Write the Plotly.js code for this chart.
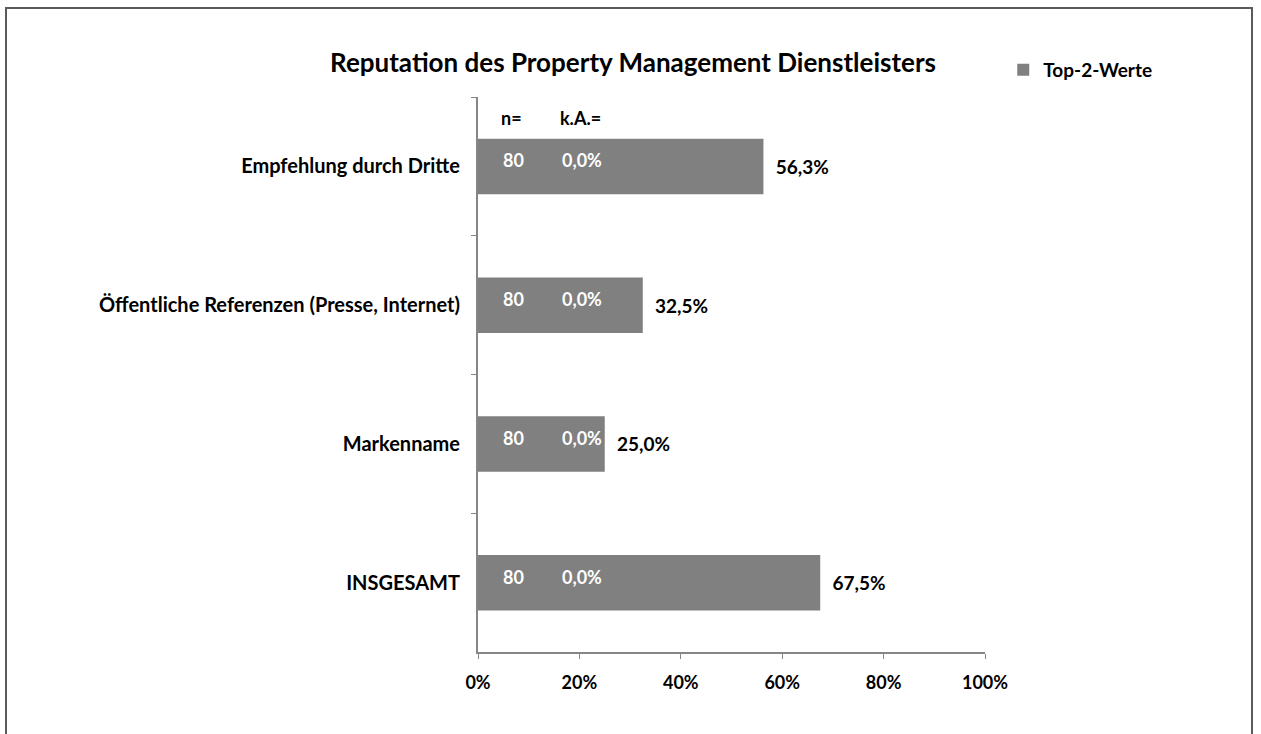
<!DOCTYPE html>
<html>
<head>
<meta charset="utf-8">
<script src="https://cdn.plot.ly/plotly-3.0.1.min.js"></script>
<style>
html,body{margin:0;padding:0;background:#fff;}
#chart{width:1261px;height:734px;}
</style>
</head>
<body>
<div id="chart"></div>
<script>
// ---- data ----
const categories = ["Empfehlung durch Dritte", "Öffentliche Referenzen (Presse, Internet)", "Markenname", "INSGESAMT"];
const top2Values = [0.563, 0.325, 0.250, 0.675];
const nValues = [80, 80, 80, 80];
const kaValues = [0.0, 0.0, 0.0, 0.0];
const xTickVals = [0, 0.2, 0.4, 0.6, 0.8, 1.0];
const xTickText = ["0%", "20%", "40%", "60%", "80%", "100%"];
const seriesName = "Top-2-Werte";
const chartTitle = "Reputation des Property Management Dienstleisters";

const FONT = "Lato, 'Open Sans', sans-serif";
const fmtPct = v => (v * 100).toFixed(1).replace(".", ",") + "%";

const trace = {
  type: "bar",
  orientation: "h",
  y: categories,
  x: top2Values,
  name: seriesName,
  marker: {color: "#808080"},
  text: top2Values.map(v => "\u00a0\u00a0" + fmtPct(v)),
  textposition: "outside",
  textfont: {family: FONT, size: 19, color: "#000", weight: "bold"},
  cliponaxis: false,
  constraintext: "none",
  hoverinfo: "skip"
};

const annotations = [];
categories.forEach((c, i) => {
  annotations.push({x: 0.070, y: c, xref: "x", yref: "y", text: "<b>" + nValues[i] + "</b>",
    showarrow: false, font: {family: FONT, size: 18, color: "#fff"}, yshift: 6});
  annotations.push({x: 0.205, y: c, xref: "x", yref: "y", text: "<b>" + fmtPct(kaValues[i]) + "</b>",
    showarrow: false, font: {family: FONT, size: 18, color: "#fff"}, yshift: 6});
});
annotations.push({x: 0.066, y: -0.35, xref: "x", yref: "y", text: "<b>n=</b>",
  showarrow: false, font: {family: FONT, size: 18, color: "#000"}});
annotations.push({x: 0.203, y: -0.35, xref: "x", yref: "y", text: "<b>k.A.=</b>",
  showarrow: false, font: {family: FONT, size: 18, color: "#000"}});

const layout = {
  width: 1261, height: 734,
  margin: {l: 478, r: 276, t: 97, b: 82},
  paper_bgcolor: "#fff", plot_bgcolor: "#fff",
  title: {text: "<b>" + chartTitle + "</b>", x: 0.502, xref: "container", xanchor: "center",
    y: 1 - 63 / 734, yref: "container", yanchor: "middle",
    font: {family: FONT, size: 26, color: "#000"}},
  bargap: 0.6,
  showlegend: true,
  legend: {x: 1.036, y: 1.049, xref: "paper", yref: "paper", xanchor: "left", yanchor: "middle",
    font: {family: FONT, size: 19, color: "#000", weight: "bold"}, itemwidth: 30,
    bgcolor: "rgba(0,0,0,0)"},
  xaxis: {
    range: [0, 1], tickvals: xTickVals, ticktext: xTickText,
    showgrid: false, zeroline: false, showline: true, linecolor: "#868686", linewidth: 2,
    ticks: "outside", ticklen: 5, tickcolor: "#868686", tickwidth: 1,
    tickfont: {family: FONT, size: 18, color: "#000", weight: "bold"},
    ticklabelstandoff: 8, fixedrange: true
  },
  yaxis: {
    type: "category", autorange: "reversed",
    showgrid: false, zeroline: false, showline: true, linecolor: "#868686", linewidth: 2,
    ticks: "outside", tickson: "boundaries", ticklen: 5, tickcolor: "#868686", tickwidth: 1,
    tickfont: {family: FONT, size: 20, color: "#000", weight: "bold"},
    ticklabelstandoff: 12, fixedrange: true
  },
  annotations: annotations,
  shapes: [{type: "rect", xref: "paper", yref: "paper",
    x0: (6 - 478) / 507, x1: (1252 - 478) / 507, y0: (652 - 760) / 555, y1: (652 - 8) / 555,
    line: {color: "#5a5a5a", width: 2}, fillcolor: "rgba(0,0,0,0)", layer: "below"}]
};

Plotly.newPlot("chart", [trace], layout, {displayModeBar: false, staticPlot: true});
</script>
</body>
</html>
